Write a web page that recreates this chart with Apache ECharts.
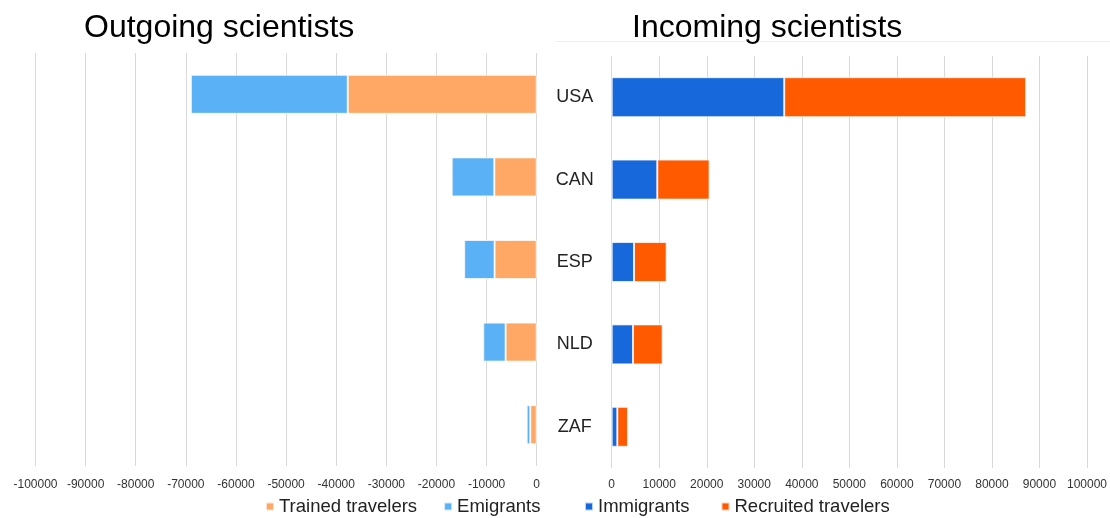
<!DOCTYPE html>
<html>
<head>
<meta charset="utf-8">
<script src="https://cdn.jsdelivr.net/npm/echarts@6/dist/echarts.min.js"></script>
<style>
html,body{margin:0;padding:0;background:#fff;}
#chart{width:1110px;height:518px;}
</style>
</head>
<body>
<div id="chart"></div>
<script>
var categories = ['USA', 'CAN', 'ESP', 'NLD', 'ZAF'];
var trainedTravelers = [-37700, -8460, -8400, -6200, -1280];
var emigrants = [-31300, -8500, -6070, -4460, -720];
var immigrants = [36300, 9590, 4690, 4480, 1180];
var recruitedTravelers = [50900, 11000, 6870, 6240, 2250];
var leftTicks = [-100000, 0];
var rightTicks = [0, 100000];

var FONT = '"Liberation Sans", Arial, sans-serif';
var chart = echarts.init(document.getElementById('chart'), null, {renderer: 'canvas'});
var gridLine = {show: true, lineStyle: {color: '#d9d9d9', width: 1}};
var barBorder = {borderColor: 'rgba(255,255,255,0.7)', borderWidth: 1};
var plain = function (v) { return String(v); };

chart.setOption({
  animation: false,
  backgroundColor: '#fff',
  title: [
    {text: 'Outgoing scientists', left: 84, top: 12, padding: 0, textStyle: {fontFamily: FONT, fontSize: 32, fontWeight: 'normal', color: '#000'}},
    {text: 'Incoming scientists', left: 632, top: 12, padding: 0, textStyle: {fontFamily: FONT, fontSize: 32, fontWeight: 'normal', color: '#000'}}
  ],
  graphic: [
    {type: 'line', shape: {x1: 555, y1: 41.5, x2: 1110, y2: 41.5}, style: {stroke: '#f0f0f0', lineWidth: 1}, silent: true}
  ],
  legend: [
    {data: ['Trained travelers', 'Emigrants'], left: 265, top: 497, padding: 0, itemWidth: 8, itemHeight: 8, itemGap: 26, icon: 'rect',
     textStyle: {fontFamily: FONT, fontSize: 18.5, color: '#222'}},
    {data: ['Immigrants', 'Recruited travelers'], left: 584, top: 497, padding: 0, itemWidth: 8, itemHeight: 8, itemGap: 31, icon: 'rect',
     textStyle: {fontFamily: FONT, fontSize: 18.5, color: '#222'}}
  ],
  grid: [
    {left: 35.5, right: 1110 - 536.7, top: 53, bottom: 52, containLabel: false},
    {left: 611.7, right: 1110 - 1087.3, top: 56, bottom: 50, containLabel: false}
  ],
  xAxis: [
    {type: 'value', gridIndex: 0, min: leftTicks[0], max: leftTicks[1], interval: 10000,
     axisLine: {show: false}, axisTick: {show: false}, splitLine: gridLine,
     axisLabel: {fontFamily: FONT, fontSize: 12, color: '#333', margin: 13, formatter: plain, showMinLabel: true, showMaxLabel: true}},
    {type: 'value', gridIndex: 1, min: rightTicks[0], max: rightTicks[1], interval: 10000,
     axisLine: {show: false}, axisTick: {show: false}, splitLine: gridLine,
     axisLabel: {fontFamily: FONT, fontSize: 12, color: '#333', margin: 11, formatter: plain, showMinLabel: true, showMaxLabel: true}}
  ],
  yAxis: [
    {type: 'category', gridIndex: 0, data: categories, inverse: true,
     axisLine: {show: false}, axisTick: {show: false}, axisLabel: {show: false}, splitLine: {show: false}},
    {type: 'category', gridIndex: 1, data: categories, inverse: true,
     axisLine: {show: false}, axisTick: {show: false}, splitLine: {show: false},
     axisLabel: {fontFamily: FONT, fontSize: 18, color: '#222', align: 'center', margin: 37}}
  ],
  series: [
    {name: 'Trained travelers', type: 'bar', stack: 'out', xAxisIndex: 0, yAxisIndex: 0, barWidth: 39,
     data: trainedTravelers, itemStyle: Object.assign({color: '#FFA764'}, barBorder)},
    {name: 'Emigrants', type: 'bar', stack: 'out', xAxisIndex: 0, yAxisIndex: 0, barWidth: 39,
     data: emigrants, itemStyle: Object.assign({color: '#5BB1F5'}, barBorder)},
    {name: 'Immigrants', type: 'bar', stack: 'in', xAxisIndex: 1, yAxisIndex: 1, barWidth: 40,
     data: immigrants, itemStyle: Object.assign({color: '#1769DB'}, barBorder)},
    {name: 'Recruited travelers', type: 'bar', stack: 'in', xAxisIndex: 1, yAxisIndex: 1, barWidth: 40,
     data: recruitedTravelers, itemStyle: Object.assign({color: '#FF5A00'}, barBorder)}
  ]
});
</script>
</body>
</html>
